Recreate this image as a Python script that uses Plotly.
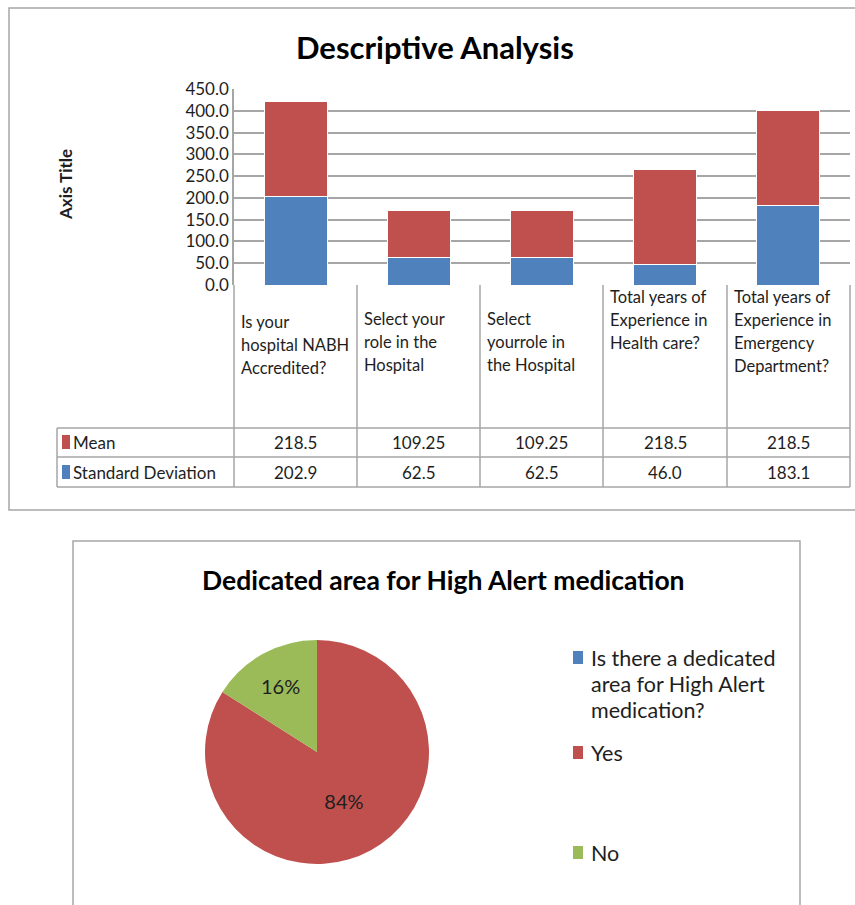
import plotly.graph_objects as go

# ---------------- data ----------------
categories = [
    "Is your hospital NABH Accredited?",
    "Select your role in the Hospital",
    "Select yourrole in the Hospital",
    "Total years of Experience in Health care?",
    "Total years of Experience in Emergency Department?",
]
category_lines = [
    ["Is your", "hospital NABH", "Accredited?"],
    ["Select your", "role in the", "Hospital"],
    ["Select", "yourrole in", "the Hospital"],
    ["Total years of", "Experience in", "Health care?"],
    ["Total years of", "Experience in", "Emergency", "Department?"],
]
mean_values = [218.5, 109.25, 109.25, 218.5, 218.5]
sd_values = [202.9, 62.5, 62.5, 46.0, 183.1]
y_ticks = [0, 50, 100, 150, 200, 250, 300, 350, 400, 450]

pie_labels = ["Is there a dedicated area for High Alert medication?", "Yes", "No"]
pie_legend_lines = [["Is there a dedicated", "area for High Alert", "medication?"], ["Yes"], ["No"]]
pie_values = [0, 84, 16]

# ---------------- styling ----------------
W, H = 855, 905
BLUE, RED, GREEN = "#4F81BD", "#C0504D", "#9BBB59"
GRID = "#A6A6A6"
FONT = "Lato"
TXT = "#1e1e1e"


def X(px):
    return px / W


def Y(py):
    return 1 - py / H


fig = go.Figure()

fig.add_trace(go.Bar(x=categories, y=sd_values, name="Standard Deviation",
                     marker=dict(color=BLUE, line=dict(color="white", width=1)),
                     showlegend=False, hoverinfo="y+name"))
fig.add_trace(go.Bar(x=categories, y=mean_values, name="Mean",
                     marker=dict(color=RED, line=dict(color="white", width=1)),
                     showlegend=False, hoverinfo="y+name"))

fig.add_trace(go.Pie(labels=pie_labels, values=pie_values, sort=False,
                     direction="clockwise", rotation=0,
                     marker=dict(colors=[BLUE, RED, GREEN]),
                     texttemplate=["", "%{percent:.0%}", "%{percent:.0%}"],
                     textposition="inside", insidetextorientation="horizontal",
                     textfont=dict(family=FONT, size=20, color=TXT),
                     domain=dict(x=[X(205), X(429)], y=[Y(864), Y(640)]),
                     showlegend=False))

shapes = []
annotations = []

# outer borders
shapes.append(dict(type="rect", xref="paper", yref="paper", x0=X(9), y0=Y(8), x1=X(870), y1=Y(510),
                   line=dict(color=GRID, width=1.5)))
shapes.append(dict(type="rect", xref="paper", yref="paper", x0=X(73), y0=Y(541), x1=X(800), y1=Y(930),
                   line=dict(color=GRID, width=1.5)))

# data table grid
col_edges = [234, 357, 480, 603, 727, 850]
for cx in col_edges:
    shapes.append(dict(type="line", xref="paper", yref="paper", x0=X(cx), y0=Y(285), x1=X(cx), y1=Y(487),
                       line=dict(color=GRID, width=1.5)))
shapes.append(dict(type="line", xref="paper", yref="paper", x0=X(57), y0=Y(428), x1=X(57), y1=Y(487),
                   line=dict(color=GRID, width=1.5)))
for ry in [428, 457, 487]:
    shapes.append(dict(type="line", xref="paper", yref="paper", x0=X(57), y0=Y(ry), x1=X(850), y1=Y(ry),
                       line=dict(color=GRID, width=1.5)))

# category label lines
line_starts = [322, 319, 319, 297, 297]
for i, lines in enumerate(category_lines):
    for j, ln in enumerate(lines):
        annotations.append(dict(x=X(col_edges[i] + 5), y=Y(line_starts[i] + j * 23), xref="paper", yref="paper",
                                text=ln, showarrow=False, xanchor="left", yanchor="middle",
                                font=dict(family=FONT, size=16.5, color=TXT)))

# table rows
rows = [("Mean", RED, [f"{v:g}" for v in mean_values], 442),
        ("Standard Deviation", BLUE, [f"{v:.1f}" for v in sd_values], 472)]
for name, col, vals, ry in rows:
    shapes.append(dict(type="rect", xref="paper", yref="paper", x0=X(62), y0=Y(ry - 7), x1=X(70), y1=Y(ry + 7),
                       fillcolor=col, line=dict(width=0)))
    annotations.append(dict(x=X(71), y=Y(ry), xref="paper", yref="paper", text=name, showarrow=False,
                            xanchor="left", yanchor="middle", font=dict(family=FONT, size=17, color=TXT)))
    for i, v in enumerate(vals):
        cxm = (col_edges[i] + col_edges[i + 1]) / 2
        annotations.append(dict(x=X(cxm), y=Y(ry), xref="paper", yref="paper", text=v, showarrow=False,
                                xanchor="center", yanchor="middle", font=dict(family=FONT, size=17, color=TXT)))

# titles
annotations.append(dict(x=X(435), y=Y(47), xref="paper", yref="paper", text="<b>Descriptive Analysis</b>",
                        showarrow=False, xanchor="center", yanchor="middle",
                        font=dict(family=FONT, size=31, color="black")))
annotations.append(dict(x=X(65), y=Y(185), xref="paper", yref="paper", text="<b>Axis Title</b>", textangle=-90,
                        showarrow=False, xanchor="center", yanchor="middle",
                        font=dict(family=FONT, size=17, color=TXT)))
annotations.append(dict(x=X(444), y=Y(580), xref="paper", yref="paper",
                        text="<b>Dedicated area for High Alert medication</b>",
                        showarrow=False, xanchor="center", yanchor="middle",
                        font=dict(family=FONT, size=26.5, color="black")))

# pie legend
leg_tops = [658, 753, 853]
pie_colors = [BLUE, RED, GREEN]
for k, lines in enumerate(pie_legend_lines):
    shapes.append(dict(type="rect", xref="paper", yref="paper", x0=X(573), y0=Y(leg_tops[k] - 7),
                       x1=X(583), y1=Y(leg_tops[k] + 6), fillcolor=pie_colors[k], line=dict(width=0)))
    for j, ln in enumerate(lines):
        annotations.append(dict(x=X(589), y=Y(leg_tops[k] + j * 26), xref="paper", yref="paper", text=ln,
                                showarrow=False, xanchor="left", yanchor="middle",
                                font=dict(family=FONT, size=21.5, color=TXT)))

fig.update_layout(
    width=W, height=H, margin=dict(l=0, r=0, t=0, b=0, autoexpand=False),
    paper_bgcolor="white", plot_bgcolor="white",
    barmode="stack", bargap=0.49,
    font=dict(family=FONT, color=TXT),
    shapes=shapes, annotations=annotations,
    xaxis=dict(domain=[X(234), X(850)], showticklabels=False, showgrid=False, zeroline=False,
               showline=False, ticks="", fixedrange=True, automargin=False),
    yaxis=dict(domain=[Y(285), Y(89)], range=[0, 450], tickvals=y_ticks,
               ticktext=[f"{v:.1f}" for v in y_ticks], showgrid=True, gridcolor=GRID, gridwidth=1.5,
               zeroline=False, showline=True, linecolor=GRID, linewidth=1.5, ticks="outside",
               ticklen=0, tickfont=dict(family=FONT, size=17, color=TXT), fixedrange=True,
               automargin=False),
)

fig.write_html("out.html", config={"displayModeBar": False},
               post_script="document.body.style.margin='0';document.body.style.overflow='hidden';")
